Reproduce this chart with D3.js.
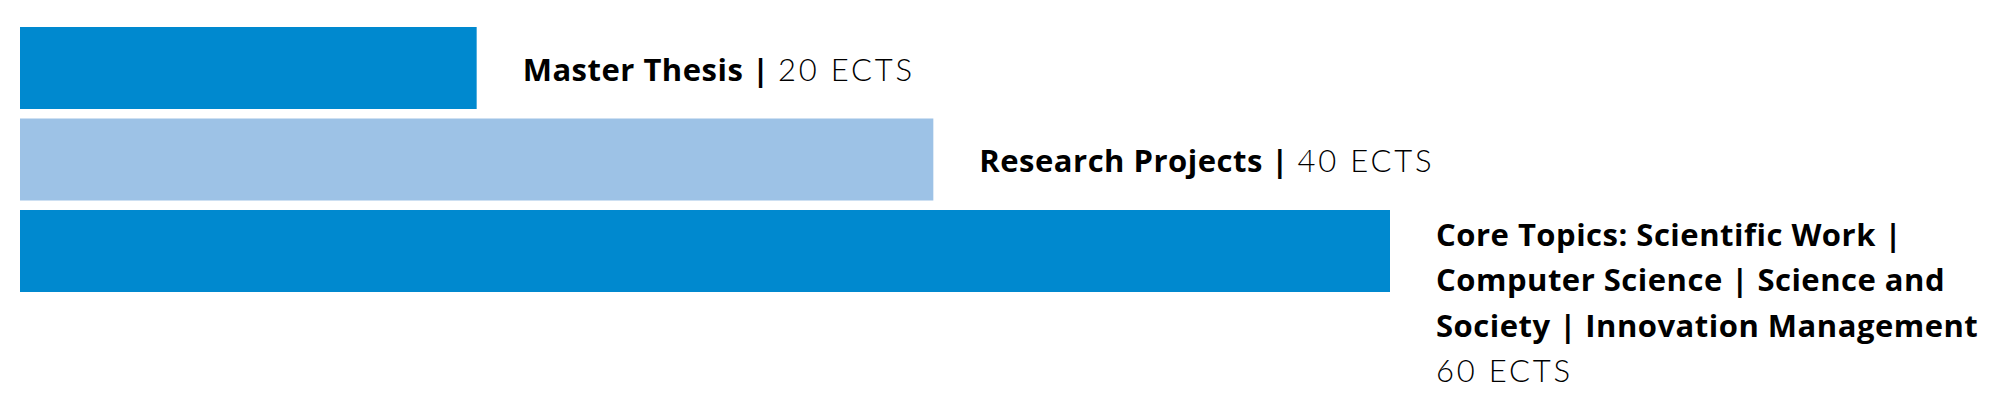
<!DOCTYPE html>
<html><head><meta charset="utf-8">
<script src="https://cdn.jsdelivr.net/npm/d3@7"></script>
<style>body{margin:0;background:#fff}</style></head>
<body><svg id="chart" width="2000" height="400"></svg>
<script>
// ---- data ----
const categories = ["Master Thesis", "Research Projects", "Core Topics: Scientific Work | Computer Science | Science and Society | Innovation Management"];
const ects = [20, 40, 60];
const unitLabel = "ECTS";
// how the bold title is wrapped in the picture
const titleLines = [
  ["Master Thesis |"],
  ["Research Projects |"],
  ["Core Topics: Scientific Work |", "Computer Science | Science and", "Society | Innovation Management"]
];
const barColors = ["#0089cf", "#9dc2e6", "#0089cf"];

// ---- layout ----
const svg = d3.select("#chart");
const x = d3.scaleLinear().domain([0, 60]).range([20, 1390]);
const y = d3.scaleBand().domain(categories).range([27, 292]).paddingInner(0.1038).paddingOuter(0);

const boldFont = {family: "Open Sans", weight: 700, size: 31, spacing: 0.5};
const lightFont = {family: "Lato", weight: 300, size: 31, spacing: 2.8};
const lineH = 45.5;

svg.selectAll("rect.bar").data(categories).join("rect")
  .attr("class", "bar")
  .attr("x", x(0))
  .attr("y", d => y(d))
  .attr("width", (d, i) => x(ects[i]) - x(0))
  .attr("height", y.bandwidth())
  .attr("fill", (d, i) => barColors[i]);

const labels = svg.selectAll("g.lab").data(categories).join("g").attr("class", "lab");
labels.each(function(d, i) {
  const g = d3.select(this);
  const lx = x(ects[i]) + 46;
  const lines = titleLines[i];
  const valText = ects[i] + " " + unitLabel;
  if (lines.length === 1) {
    const base = y(d) + 53.5;
    const t = g.append("text").attr("x", lx).attr("y", base);
    t.append("tspan")
      .attr("font-family", boldFont.family).attr("font-weight", boldFont.weight)
      .attr("font-size", boldFont.size).attr("letter-spacing", boldFont.spacing)
      .attr("fill", "#000").text(lines[0] + " ");
    t.append("tspan")
      .attr("font-family", lightFont.family).attr("font-weight", lightFont.weight)
      .attr("font-size", lightFont.size).attr("letter-spacing", lightFont.spacing)
      .attr("fill", "#000").text(valText);
  } else {
    const base = y(d) + 36;
    lines.forEach((ln, k) => {
      g.append("text").attr("x", lx).attr("y", base + k * lineH)
        .attr("font-family", boldFont.family).attr("font-weight", boldFont.weight)
        .attr("font-size", boldFont.size).attr("letter-spacing", boldFont.spacing)
        .attr("fill", "#000").text(ln);
    });
    g.append("text").attr("x", lx).attr("y", base + lines.length * lineH)
      .attr("font-family", lightFont.family).attr("font-weight", lightFont.weight)
      .attr("font-size", lightFont.size).attr("letter-spacing", lightFont.spacing)
      .attr("fill", "#000").text(valText);
  }
});
</script></body></html>
